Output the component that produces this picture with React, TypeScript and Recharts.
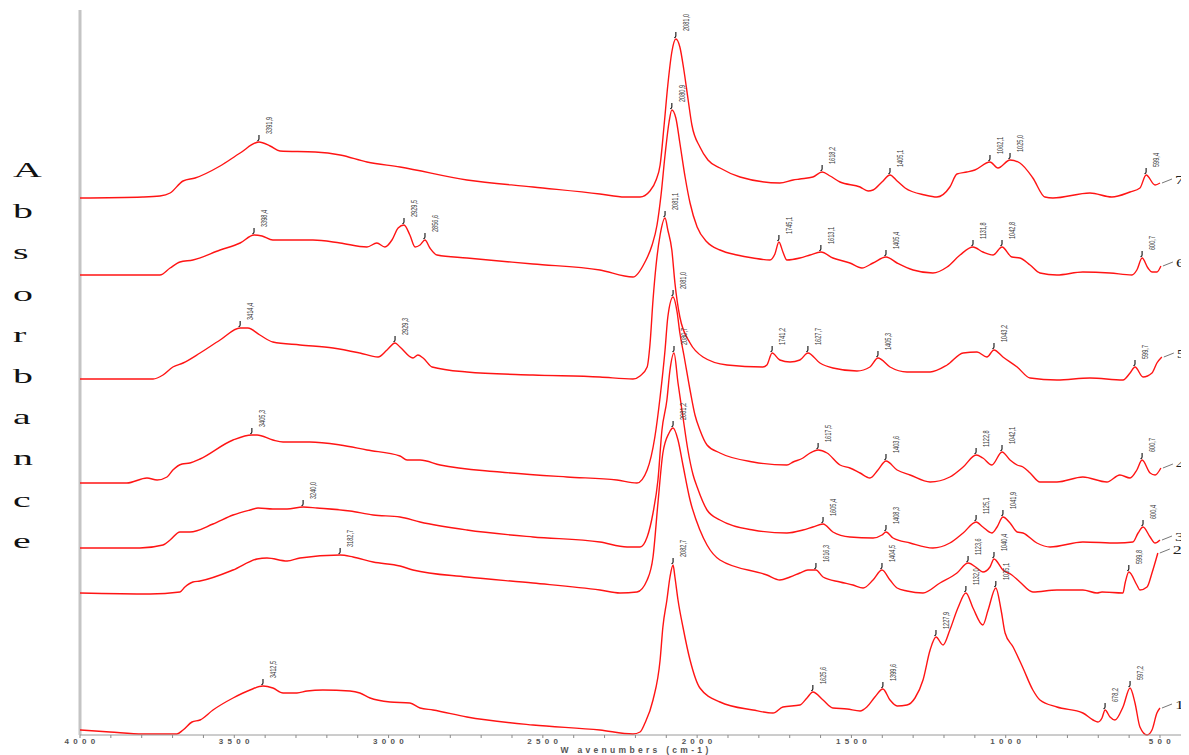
import React from 'react';
import { ComposedChart, Line, Scatter, XAxis, YAxis, ReferenceLine } from 'recharts';

type Pt = [number, number];
type Peak = [number, number, string];

// ---- spectra: [wavenumber (cm-1), absorbance (offset, a.u.)] ----
const spectrum7: Pt[] = [
  [4000, 5.37], [3796, 5.38], [3741, 5.39], [3708, 5.42], [3666, 5.54], [3627, 5.57], [3546, 5.69], [3481, 5.82],
  [3420, 5.93], [3384, 5.89], [3352, 5.84], [3238, 5.83], [3157, 5.8], [3070, 5.73], [2963, 5.68], [2746, 5.55],
  [2532, 5.48], [2315, 5.41], [2234, 5.38], [2185, 5.38], [2153, 5.44], [2133, 5.55], [2120, 5.7], [2107, 6.1],
  [2095, 6.5], [2082, 6.83], [2069, 6.96], [2056, 6.88], [2043, 6.65], [2030, 6.37], [2017, 6.1], [1991, 5.88],
  [1965, 5.75], [1926, 5.67], [1861, 5.58], [1732, 5.52], [1689, 5.55], [1667, 5.56], [1625, 5.58], [1595, 5.63],
  [1569, 5.59], [1537, 5.53], [1472, 5.48], [1446, 5.44], [1430, 5.45], [1401, 5.53], [1375, 5.6], [1352, 5.54],
  [1326, 5.47], [1262, 5.4], [1223, 5.38], [1181, 5.48], [1158, 5.61], [1126, 5.63], [1100, 5.65], [1051, 5.73],
  [1025, 5.67], [986, 5.75], [954, 5.72], [912, 5.57], [873, 5.38], [847, 5.37], [727, 5.42], [656, 5.38],
  [597, 5.43], [565, 5.47], [545, 5.6], [516, 5.5], [500, 5.52],
];
const spectrum6: Pt[] = [
  [4000, 4.6], [3741, 4.6], [3708, 4.67], [3676, 4.73], [3634, 4.75], [3546, 4.85], [3481, 4.92], [3436, 5.0],
  [3410, 4.99], [3375, 4.95], [3245, 4.95], [3157, 4.92], [3070, 4.88], [3038, 4.92], [3012, 4.88], [2989, 4.95],
  [2969, 5.07], [2950, 5.1], [2931, 5.0], [2914, 4.88], [2898, 4.9], [2882, 4.95], [2866, 4.87], [2843, 4.8],
  [2746, 4.77], [2532, 4.71], [2315, 4.65], [2208, 4.58], [2169, 4.73], [2146, 4.9], [2130, 5.1], [2117, 5.4],
  [2104, 5.8], [2091, 6.13], [2082, 6.25], [2069, 6.17], [2056, 5.92], [2039, 5.58], [2023, 5.32], [2000, 5.08],
  [1968, 4.93], [1926, 4.85], [1871, 4.8], [1819, 4.77], [1764, 4.75], [1748, 4.81], [1735, 4.93], [1722, 4.83],
  [1709, 4.75], [1667, 4.77], [1634, 4.8], [1599, 4.83], [1560, 4.77], [1505, 4.72], [1466, 4.67], [1430, 4.72],
  [1388, 4.78], [1352, 4.72], [1300, 4.65], [1236, 4.62], [1190, 4.68], [1148, 4.8], [1106, 4.88], [1074, 4.83],
  [1041, 4.8], [1012, 4.88], [980, 4.78], [954, 4.77], [921, 4.7], [889, 4.62], [834, 4.6], [750, 4.63],
  [662, 4.62], [591, 4.6], [575, 4.65], [558, 4.77], [539, 4.67], [526, 4.63], [510, 4.63], [497, 4.69],
];
const spectrum5: Pt[] = [
  [4000, 3.56], [3763, 3.56], [3731, 3.6], [3699, 3.68], [3666, 3.72], [3611, 3.82], [3546, 3.95], [3481, 4.07],
  [3456, 4.07], [3417, 4.0], [3375, 3.93], [3287, 3.9], [3180, 3.87], [3093, 3.82], [3034, 3.78], [3005, 3.85],
  [2979, 3.92], [2963, 3.88], [2921, 3.77], [2905, 3.8], [2888, 3.77], [2859, 3.68], [2746, 3.63], [2532, 3.6],
  [2315, 3.58], [2208, 3.56], [2185, 3.59], [2162, 3.68], [2153, 3.9], [2143, 4.35], [2133, 4.7], [2120, 5.0],
  [2104, 5.17], [2095, 5.05], [2082, 4.85], [2072, 4.52], [2056, 4.18], [2023, 3.92], [1981, 3.78], [1903, 3.7],
  [1787, 3.68], [1774, 3.7], [1757, 3.82], [1732, 3.75], [1699, 3.73], [1667, 3.75], [1641, 3.82], [1602, 3.72],
  [1560, 3.67], [1482, 3.64], [1440, 3.68], [1414, 3.77], [1375, 3.68], [1320, 3.63], [1245, 3.63], [1190, 3.7],
  [1138, 3.82], [1093, 3.83], [1061, 3.78], [1038, 3.85], [1009, 3.78], [963, 3.68], [921, 3.57], [834, 3.55],
  [727, 3.57], [620, 3.55], [597, 3.62], [581, 3.68], [555, 3.58], [526, 3.62], [510, 3.72], [494, 3.78],
];
const spectrum4: Pt[] = [
  [4000, 2.52], [3848, 2.52], [3783, 2.57], [3750, 2.55], [3718, 2.58], [3699, 2.65], [3669, 2.71], [3644, 2.72],
  [3611, 2.76], [3504, 2.95], [3443, 3.0], [3426, 3.0], [3375, 2.95], [3342, 2.93], [3255, 2.93], [3157, 2.9],
  [3070, 2.85], [2963, 2.79], [2940, 2.75], [2898, 2.75], [2833, 2.7], [2639, 2.63], [2422, 2.58], [2260, 2.55],
  [2195, 2.52], [2162, 2.65], [2137, 2.98], [2120, 3.38], [2104, 3.85], [2095, 4.18], [2078, 4.38], [2065, 4.23],
  [2056, 4.02], [2043, 3.8], [2023, 3.45], [2007, 3.2], [1991, 3.05], [1968, 2.9], [1926, 2.82], [1819, 2.73],
  [1709, 2.7], [1689, 2.73], [1657, 2.77], [1634, 2.82], [1608, 2.85], [1579, 2.82], [1537, 2.7], [1505, 2.67],
  [1472, 2.62], [1440, 2.57], [1414, 2.65], [1388, 2.74], [1352, 2.65], [1310, 2.6], [1245, 2.53], [1181, 2.58],
  [1138, 2.68], [1096, 2.8], [1074, 2.77], [1045, 2.7], [1012, 2.83], [986, 2.75], [963, 2.7], [944, 2.68],
  [921, 2.62], [889, 2.53], [834, 2.53], [750, 2.58], [672, 2.53], [630, 2.6], [597, 2.57], [575, 2.65],
  [558, 2.75], [532, 2.62], [516, 2.6], [497, 2.67],
];
const spectrum3: Pt[] = [
  [4000, 1.87], [3806, 1.87], [3731, 1.9], [3708, 1.95], [3676, 2.03], [3644, 2.03], [3569, 2.11], [3504, 2.2],
  [3449, 2.25], [3423, 2.27], [3375, 2.26], [3329, 2.26], [3277, 2.28], [3232, 2.27], [3125, 2.24], [3050, 2.2],
  [2963, 2.18], [2898, 2.13], [2746, 2.05], [2532, 1.98], [2315, 1.93], [2227, 1.88], [2185, 1.88], [2162, 1.98],
  [2143, 2.22], [2127, 2.55], [2114, 3.05], [2098, 3.35], [2088, 3.65], [2075, 3.82], [2062, 3.52], [2046, 3.18],
  [2030, 2.85], [2013, 2.6], [2000, 2.48], [1968, 2.25], [1926, 2.15], [1819, 2.05], [1709, 2.02], [1657, 2.05],
  [1625, 2.08], [1592, 2.11], [1560, 2.03], [1505, 1.98], [1430, 1.97], [1401, 2.0], [1388, 2.03], [1365, 1.97],
  [1310, 1.92], [1236, 1.87], [1181, 1.92], [1138, 2.02], [1096, 2.13], [1074, 2.08], [1045, 2.02], [1028, 2.08],
  [1009, 2.18], [986, 2.12], [963, 2.03], [944, 2.02], [899, 1.92], [856, 1.88], [750, 1.93], [639, 1.92],
  [588, 1.93], [571, 2.02], [555, 2.08], [532, 1.98], [516, 1.92], [500, 1.95],
];
const spectrum2: Pt[] = [
  [4000, 1.42], [3773, 1.41], [3676, 1.43], [3660, 1.48], [3634, 1.53], [3611, 1.54], [3504, 1.65], [3426, 1.76],
  [3394, 1.77], [3329, 1.74], [3287, 1.77], [3157, 1.8], [3115, 1.78], [3050, 1.73], [2963, 1.69], [2921, 1.65],
  [2746, 1.58], [2532, 1.52], [2315, 1.45], [2250, 1.42], [2195, 1.43], [2162, 1.55], [2143, 1.78], [2127, 2.32],
  [2111, 2.82], [2091, 3.02], [2078, 3.07], [2062, 2.95], [2046, 2.7], [2023, 2.35], [1991, 2.05], [1968, 1.9],
  [1926, 1.75], [1774, 1.6], [1732, 1.55], [1699, 1.58], [1667, 1.62], [1641, 1.65], [1615, 1.65], [1592, 1.58],
  [1537, 1.53], [1495, 1.5], [1462, 1.47], [1430, 1.55], [1401, 1.65], [1375, 1.55], [1352, 1.47], [1320, 1.44],
  [1268, 1.42], [1213, 1.52], [1158, 1.62], [1122, 1.72], [1093, 1.67], [1074, 1.63], [1051, 1.68], [1038, 1.76],
  [1009, 1.65], [980, 1.6], [954, 1.53], [912, 1.43], [834, 1.45], [750, 1.45], [704, 1.42], [688, 1.43],
  [620, 1.42], [613, 1.52], [601, 1.63], [575, 1.5], [565, 1.45], [542, 1.48], [526, 1.62], [507, 1.82],
];
const spectrum1: Pt[] = [
  [4000, 0.05], [3903, 0.03], [3796, 0.01], [3686, 0.01], [3666, 0.05], [3637, 0.13], [3611, 0.15], [3569, 0.25],
  [3504, 0.37], [3449, 0.45], [3407, 0.49], [3375, 0.47], [3342, 0.42], [3297, 0.42], [3264, 0.44], [3213, 0.45],
  [3125, 0.44], [3093, 0.42], [3060, 0.37], [2995, 0.33], [2931, 0.32], [2898, 0.27], [2856, 0.25], [2746, 0.18],
  [2532, 0.1], [2315, 0.05], [2208, 0.01], [2185, 0.03], [2169, 0.12], [2143, 0.35], [2120, 0.75], [2111, 1.08],
  [2098, 1.35], [2088, 1.58], [2078, 1.7], [2072, 1.58], [2062, 1.35], [2046, 1.08], [2023, 0.75], [1991, 0.47],
  [1926, 0.33], [1819, 0.25], [1754, 0.22], [1722, 0.28], [1667, 0.3], [1644, 0.37], [1625, 0.43], [1592, 0.35],
  [1560, 0.27], [1514, 0.26], [1472, 0.24], [1450, 0.28], [1424, 0.38], [1398, 0.46], [1375, 0.35], [1352, 0.29],
  [1320, 0.3], [1294, 0.37], [1268, 0.55], [1245, 0.85], [1226, 0.98], [1203, 0.9], [1181, 1.05], [1155, 1.27],
  [1129, 1.42], [1106, 1.27], [1074, 1.1], [1057, 1.25], [1032, 1.47], [1015, 1.25], [1002, 1.02], [976, 0.88],
  [944, 0.67], [912, 0.45], [889, 0.35], [834, 0.28], [750, 0.22], [717, 0.15], [701, 0.13], [688, 0.17],
  [678, 0.25], [662, 0.18], [646, 0.15], [620, 0.28], [597, 0.47], [581, 0.32], [565, 0.08], [542, 0.0],
  [526, 0.05], [510, 0.22], [500, 0.27],
];

// ---- labelled peaks: [wavenumber, absorbance, label] ----
const peaks7: Peak[] = [
  [3420, 5.93, '3391,9'], [2069, 6.96, '2081,0'], [1595, 5.63, '1618,2'], [1375, 5.6, '1405,1'],
  [1051, 5.73, '1062,1'], [986, 5.75, '1025,0'], [545, 5.6, '599,4'],
];
const peaks6: Peak[] = [
  [3436, 5.0, '3398,4'], [2950, 5.1, '2929,5'], [2882, 4.95, '2856,6'], [2082, 6.25, '2080,9'],
  [1735, 4.93, '1745,1'], [1599, 4.83, '1613,1'], [1388, 4.78, '1405,4'], [1106, 4.88, '1131,8'],
  [1012, 4.88, '1042,8'], [558, 4.77, '600,7'],
];
const peaks5: Peak[] = [
  [3481, 4.07, '3414,4'], [2979, 3.92, '2929,3'], [2104, 5.17, '2081,1'], [1757, 3.82, '1741,2'],
  [1641, 3.82, '1627,7'], [1414, 3.77, '1405,3'], [1038, 3.85, '1043,2'], [581, 3.68, '599,7'],
];
const peaks4: Peak[] = [
  [3443, 3.0, '3405,3'], [2078, 4.38, '2081,0'], [1608, 2.85, '1617,5'], [1388, 2.74, '1403,6'],
  [1096, 2.8, '1122,8'], [1012, 2.83, '1042,1'], [558, 2.75, '600,7'],
];
const peaks3: Peak[] = [
  [3277, 2.28, '3240,0'], [2075, 3.82, '2080,7'], [1592, 2.11, '1605,4'], [1388, 2.03, '1408,3'],
  [1096, 2.13, '1125,1'], [1009, 2.18, '1041,9'], [555, 2.08, '600,4'],
];
const peaks2: Peak[] = [
  [3157, 1.8, '3182,7'], [2078, 3.07, '2081,2'], [1615, 1.65, '1616,3'], [1401, 1.65, '1404,5'],
  [1122, 1.72, '1123,6'], [1038, 1.76, '1040,4'], [601, 1.63, '599,8'],
];
const peaks1: Peak[] = [
  [3407, 0.49, '3412,5'], [2078, 1.7, '2082,7'], [1625, 0.43, '1625,6'], [1398, 0.46, '1399,6'],
  [1226, 0.98, '1227,9'], [1129, 1.42, '1132,0'], [1032, 1.47, '1035,1'], [678, 0.25, '678,2'],
  [597, 0.47, '597,2'],
];

const traceNumbers = ['1', '2', '3', '4', '5', '6', '7'];
const xTickValues = [
  500, 600, 700, 800, 900, 1000, 1100, 1200, 1300, 1400, 1500, 1600, 1700, 1800, 1900, 2000, 2100, 2200,
  2300, 2400, 2500, 2600, 2700, 2800, 2900, 3000, 3100, 3200, 3300, 3400, 3500, 3600, 3700, 3800, 3900, 4000,
];
const xTickLabels = [500, 1000, 1500, 2000, 2500, 3000, 3500, 4000];
const yAxisTitle = 'Absorbance';
const xAxisTitle = 'W avenumbers (cm-1)';

const SPECTRA = [spectrum1, spectrum2, spectrum3, spectrum4, spectrum5, spectrum6, spectrum7];
const PEAKS = [peaks1, peaks2, peaks3, peaks4, peaks5, peaks6, peaks7];

const RED = '#ff1414';
const W = 1181;
const H = 747;

const toRows = (s: Pt[]) => s.map(([w, a]) => ({ w, a }));
const peakRows = (p: Peak[]) => p.map(([w, a, label]) => ({ w, a, label }));
const endRows = SPECTRA.map((s, i) => {
  const last = s[s.length - 1];
  return { w: last[0], a: last[1], label: traceNumbers[i] };
});

const PeakMark = (props: any) => {
  const { cx, cy, payload } = props;
  if (cx == null || cy == null || !payload) return <g />;
  const label: string = payload.label;
  return (
    <g>
      <path
        d={`M${cx - 1.6},${cy - 1.2} Q${cx},${cy - 1.6} ${cx},${cy - 3} L${cx},${cy - 7}`}
        stroke="#111"
        strokeWidth={1.1}
        fill="none"
      />
      <text
        transform={`translate(${cx + 13},${cy - 8}) rotate(-90) scale(1,1.75)`}
        fontSize={5.6}
        fill="#3a3a3a"
        fontFamily="'Liberation Sans', Arial, sans-serif"
      >
        {label}
      </text>
    </g>
  );
};

const EndMark = (props: any) => {
  const { cx, cy, payload } = props;
  if (cx == null || cy == null || !payload) return <g />;
  return (
    <g>
      <line x1={cx + 2} y1={cy} x2={cx + 12} y2={cy - 4} stroke="#777" strokeWidth={1} />
      <text
        transform={`translate(${cx + 15},${cy + 1}) scale(1.5,1)`}
        fontSize={12}
        fill="#222"
        fontFamily="'Liberation Serif', 'DejaVu Serif', serif"
      >
        {payload.label}
      </text>
    </g>
  );
};

const AxisTick = (props: any) => {
  const { x, y, payload } = props;
  if (!xTickLabels.includes(payload.value)) return <g />;
  return (
    <text
      x={x + 2}
      y={y + 6}
      textAnchor="middle"
      fontSize={8}
      fontWeight="bold"
      fill="#555"
      letterSpacing={4.3}
      fontFamily="'Liberation Sans', Arial, sans-serif"
    >
      {payload.value}
    </text>
  );
};

export default function App() {
  return (
    <div style={{ position: 'relative', width: W, height: H, background: '#fff' }}>
      <ComposedChart width={W} height={H} margin={{ top: 2, right: 0, left: 72, bottom: 0 }}>
        <XAxis
          dataKey="w"
          type="number"
          domain={[406, 4000]}
          reversed
          ticks={xTickValues}
          interval={0}
          tick={<AxisTick />}
          tickSize={3}
          tickMargin={0}
          height={20}
          axisLine={{ stroke: '#9a9a9a', strokeWidth: 1 }}
          tickLine={{ stroke: '#8a8a8a' }}
        />
        <YAxis type="number" domain={[0, 7.25]} hide />
        <ReferenceLine x={4000} stroke="#c4c4c4" strokeWidth={3} />
        {SPECTRA.map((s, i) => (
          <Line
            key={`line${i}`}
            data={toRows(s)}
            dataKey="a"
            type="monotone"
            stroke={RED}
            strokeWidth={1.4}
            dot={false}
            activeDot={false}
            isAnimationActive={false}
          />
        ))}
        {PEAKS.map((p, i) => (
          <Scatter
            key={`peaks${i}`}
            data={peakRows(p)}
            dataKey="a"
            shape={<PeakMark />}
            isAnimationActive={false}
          />
        ))}
        <Scatter data={endRows} dataKey="a" shape={<EndMark />} isAnimationActive={false} />
      </ComposedChart>
      <svg
        width={W}
        height={H}
        style={{ position: 'absolute', left: 0, top: 0, pointerEvents: 'none' }}
      >
        {yAxisTitle.split('').map((ch, i) => (
          <text
            key={i}
            transform={`translate(5,${169 + i * 41.2}) scale(1.9,1)`}
            fontSize={21}
            fill="#111"
            fontFamily="'Liberation Serif', 'Times New Roman', serif"
          >
            {ch}
          </text>
        ))}
        <text
          x={628}
          y={745}
          textAnchor="middle"
          fontSize={8.5}
          fontWeight="bold"
          fill="#555"
          letterSpacing={3.3}
          fontFamily="'Liberation Sans', Arial, sans-serif"
        >
          {xAxisTitle}
        </text>
      </svg>
    </div>
  );
}
